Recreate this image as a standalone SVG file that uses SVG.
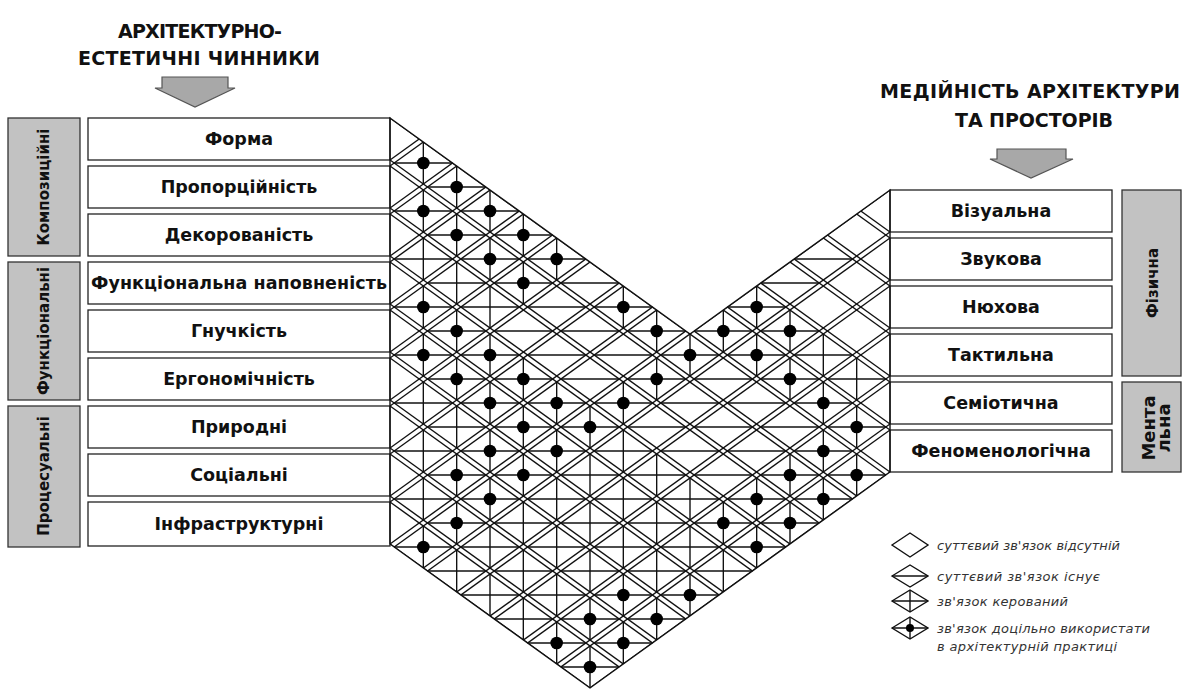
<svg xmlns="http://www.w3.org/2000/svg" xmlns:xlink="http://www.w3.org/1999/xlink" width="1187" height="690" viewBox="0 0 1187 690">
<style>
.ln{stroke:#111;stroke-width:1.4;fill:none}
.box{fill:#fff;stroke:#222;stroke-width:1.3}
.gbox{fill:#c2c2c2;stroke:#333;stroke-width:1.3}
.lbl{font-family:"DejaVu Sans",sans-serif;font-weight:bold;font-size:17.5px;fill:#111;text-anchor:middle}
.glbl{font-family:"DejaVu Sans",sans-serif;font-weight:bold;font-size:15px;fill:#111;text-anchor:middle}
.ttl{font-family:"DejaVu Sans",sans-serif;font-weight:bold;font-size:19px;fill:#111;text-anchor:middle}
.leg{font-family:"DejaVu Sans",sans-serif;font-style:italic;font-size:13px;fill:#333}
.arr{fill:#a8a8a8;stroke:#555;stroke-width:1.2}
.dot{fill:#000}
</style>
<defs>
<line id="ul" class="ln" x1="390" y1="0" x2="890" y2="360"/>
<line id="wl" class="ln" x1="390" y1="0" x2="890" y2="-360"/>
<path id="h" class="ln" d="M-29.17 0H29.17"/>
<path id="v" class="ln" d="M0 -21V21"/>
<g id="t1"><use href="#h"/></g>
<g id="t2"><use href="#h"/><use href="#v"/></g>
<g id="t3"><use href="#h"/><use href="#v"/><circle class="dot" r="6.3"/></g>
<clipPath id="cl"><polygon points="390,118 690,334 890,190 890,472 590,688 390,544"/></clipPath>
</defs>
<rect width="1187" height="690" fill="#fff"/>

<g id="title-left">
<text class="ttl" x="200" y="38" textLength="164">АРХІТЕКТУРНО-</text>
<text class="ttl" x="199" y="65" textLength="242">ЕСТЕТИЧНІ ЧИННИКИ</text>
</g>
<g id="title-right">
<text class="ttl" x="1030" y="98" textLength="300">МЕДІЙНІСТЬ АРХІТЕКТУРИ</text>
<text class="ttl" x="1034" y="127" textLength="158">ТА ПРОСТОРІВ</text>
</g>

<g id="connectors">
<polygon class="arr" points="162,77 228,77 228,88 235,88 195,107 155,88 162,88"/>
<polygon class="arr" points="997,149 1066,149 1066,159 1073,159 1031,178 990,159 997,159"/>
</g>

<g id="group-kompozytsiini"><rect class="gbox" x="8" y="118" width="72" height="138"/><text class="glbl" transform="translate(44,187) rotate(-90)" y="5">Композиційні</text></g>
<g id="group-funktsionalni"><rect class="gbox" x="8" y="262" width="72" height="138"/><text class="glbl" transform="translate(44,331) rotate(-90)" y="5">Функціональні</text></g>
<g id="group-protsesualni"><rect class="gbox" x="8" y="406" width="72" height="141"/><text class="glbl" transform="translate(44,476) rotate(-90)" y="5">Процесуальні</text></g>

<g id="f-forma"><rect class="box" x="88" y="118" width="302" height="42"/><text class="lbl" x="239" y="145">Форма</text></g>
<g id="f-proportsiinist"><rect class="box" x="88" y="166" width="302" height="42"/><text class="lbl" x="239" y="193">Пропорційність</text></g>
<g id="f-dekorovanist"><rect class="box" x="88" y="214" width="302" height="42"/><text class="lbl" x="239" y="241">Декорованість</text></g>
<g id="f-funktsionalna"><rect class="box" x="88" y="262" width="302" height="42"/><text class="lbl" x="239" y="289" textLength="296">Функціональна наповненість</text></g>
<g id="f-hnuchkist"><rect class="box" x="88" y="310" width="302" height="42"/><text class="lbl" x="239" y="337">Гнучкість</text></g>
<g id="f-erhonomichnist"><rect class="box" x="88" y="358" width="302" height="42"/><text class="lbl" x="239" y="385">Ергономічність</text></g>
<g id="f-pryrodni"><rect class="box" x="88" y="406" width="302" height="42"/><text class="lbl" x="239" y="433">Природні</text></g>
<g id="f-sotsialni"><rect class="box" x="88" y="454" width="302" height="42"/><text class="lbl" x="239" y="481">Соціальні</text></g>
<g id="f-infrastrukturni"><rect class="box" x="88" y="502" width="302" height="44"/><text class="lbl" x="239" y="530">Інфраструктурні</text></g>

<g id="m-vizualna"><rect class="box" x="890" y="190" width="222" height="42"/><text class="lbl" x="1001" y="217">Візуальна</text></g>
<g id="m-zvukova"><rect class="box" x="890" y="238" width="222" height="42"/><text class="lbl" x="1001" y="265">Звукова</text></g>
<g id="m-niukhova"><rect class="box" x="890" y="286" width="222" height="42"/><text class="lbl" x="1001" y="313">Нюхова</text></g>
<g id="m-taktylna"><rect class="box" x="890" y="334" width="222" height="42"/><text class="lbl" x="1001" y="361">Тактильна</text></g>
<g id="m-semiotychna"><rect class="box" x="890" y="382" width="222" height="42"/><text class="lbl" x="1001" y="409">Семіотична</text></g>
<g id="m-fenomenolohichna"><rect class="box" x="890" y="430" width="222" height="42"/><text class="lbl" x="1001" y="457">Феноменологічна</text></g>

<g id="group-fizychna"><rect class="gbox" x="1122" y="190" width="59" height="186"/><text class="glbl" transform="translate(1152,283) rotate(-90)" y="6">Фізична</text></g>
<g id="group-mentalna"><rect class="gbox" x="1122" y="382" width="59" height="90"/><text class="glbl" style="font-size:18px" transform="translate(1150,428) rotate(-90)" y="5">Мента</text><text class="glbl" style="font-size:18px" transform="translate(1150,428) rotate(-90)" y="20">льна</text></g>

<g id="matrix">
<g clip-path="url(#cl)">
<use href="#ul" y="-170"/><use href="#ul" y="-128"/><use href="#ul" y="-122"/><use href="#ul" y="-80"/><use href="#ul" y="-74"/><use href="#ul" y="-32"/><use href="#ul" y="-26"/><use href="#ul" y="16"/><use href="#ul" y="22"/><use href="#ul" y="64"/><use href="#ul" y="70"/><use href="#ul" y="112"/><use href="#ul" y="118"/><use href="#ul" y="160"/><use href="#ul" y="166"/><use href="#ul" y="208"/><use href="#ul" y="214"/><use href="#ul" y="256"/><use href="#ul" y="262"/><use href="#ul" y="304"/><use href="#ul" y="310"/><use href="#ul" y="352"/><use href="#ul" y="358"/><use href="#ul" y="400"/><use href="#ul" y="406"/><use href="#ul" y="448"/><use href="#ul" y="454"/><use href="#ul" y="496"/><use href="#ul" y="502"/><use href="#ul" y="544"/>
<use href="#wl" y="118"/><use href="#wl" y="160"/><use href="#wl" y="166"/><use href="#wl" y="208"/><use href="#wl" y="214"/><use href="#wl" y="256"/><use href="#wl" y="262"/><use href="#wl" y="304"/><use href="#wl" y="310"/><use href="#wl" y="352"/><use href="#wl" y="358"/><use href="#wl" y="400"/><use href="#wl" y="406"/><use href="#wl" y="448"/><use href="#wl" y="454"/><use href="#wl" y="496"/><use href="#wl" y="502"/><use href="#wl" y="544"/><use href="#wl" y="550"/><use href="#wl" y="592"/><use href="#wl" y="598"/><use href="#wl" y="640"/><use href="#wl" y="646"/><use href="#wl" y="688"/><use href="#wl" y="694"/><use href="#wl" y="736"/><use href="#wl" y="742"/><use href="#wl" y="784"/><use href="#wl" y="790"/><use href="#wl" y="832"/>
</g>
<polygon class="ln" points="390,118 690,334 890,190 890,472 590,688 390,544"/>
<use href="#t3" x="423.33" y="163"/><use href="#t3" x="423.33" y="211"/><use href="#t2" x="423.33" y="259"/><use href="#t3" x="423.33" y="307"/><use href="#t3" x="423.33" y="355"/><use href="#t2" x="423.33" y="403"/><use href="#t2" x="423.33" y="451"/><use href="#t2" x="423.33" y="499"/>
<use href="#t3" x="456.67" y="187"/><use href="#t3" x="456.67" y="235"/><use href="#t2" x="456.67" y="283"/><use href="#t3" x="456.67" y="331"/><use href="#t3" x="456.67" y="379"/><use href="#t2" x="456.67" y="427"/><use href="#t3" x="456.67" y="475"/>
<use href="#t3" x="490" y="211"/><use href="#t3" x="490" y="259"/><use href="#t2" x="490" y="307"/><use href="#t3" x="490" y="355"/><use href="#t3" x="490" y="403"/><use href="#t3" x="490" y="451"/>
<use href="#t3" x="523.33" y="235"/><use href="#t3" x="523.33" y="283"/><use href="#t1" x="523.33" y="331"/><use href="#t3" x="523.33" y="379"/><use href="#t3" x="523.33" y="427"/>
<use href="#t3" x="556.67" y="259"/><use href="#t1" x="556.67" y="307"/><use href="#t1" x="556.67" y="355"/><use href="#t3" x="556.67" y="403"/>
<use href="#t1" x="590" y="283"/><use href="#t1" x="590" y="331"/><use href="#t1" x="590" y="379"/>
<use href="#t3" x="623.33" y="307"/><use href="#t1" x="623.33" y="355"/>
<use href="#t3" x="656.67" y="331"/>
<use href="#t3" x="690" y="355"/><use href="#t3" x="656.67" y="379"/><use href="#t3" x="623.33" y="403"/><use href="#t3" x="590" y="427"/><use href="#t3" x="556.67" y="451"/><use href="#t3" x="523.33" y="475"/><use href="#t3" x="490" y="499"/><use href="#t3" x="456.67" y="523"/><use href="#t3" x="423.33" y="547"/>
<use href="#t1" x="723.33" y="379"/><use href="#t1" x="690" y="403"/><use href="#t1" x="656.67" y="427"/><use href="#t2" x="623.33" y="451"/><use href="#t2" x="590" y="475"/><use href="#t2" x="556.67" y="499"/><use href="#t2" x="523.33" y="523"/><use href="#t2" x="490" y="547"/><use href="#t2" x="456.67" y="571"/>
<use href="#t1" x="756.67" y="403"/><use href="#t1" x="723.33" y="427"/><use href="#t1" x="690" y="451"/><use href="#t2" x="656.67" y="475"/><use href="#t2" x="623.33" y="499"/><use href="#t2" x="590" y="523"/><use href="#t2" x="556.67" y="547"/><use href="#t2" x="523.33" y="571"/><use href="#t2" x="490" y="595"/>
<use href="#t1" x="790" y="427"/><use href="#t1" x="756.67" y="451"/><use href="#t1" x="723.33" y="475"/><use href="#t2" x="690" y="499"/><use href="#t2" x="656.67" y="523"/><use href="#t2" x="623.33" y="547"/><use href="#t2" x="590" y="571"/><use href="#t2" x="556.67" y="595"/><use href="#t2" x="523.33" y="619"/>
<use href="#t3" x="823.33" y="451"/><use href="#t3" x="790" y="475"/><use href="#t3" x="756.67" y="499"/><use href="#t3" x="723.33" y="523"/><use href="#t2" x="690" y="547"/><use href="#t2" x="656.67" y="571"/><use href="#t3" x="623.33" y="595"/><use href="#t3" x="590" y="619"/><use href="#t3" x="556.67" y="643"/>
<use href="#t3" x="856.67" y="475"/><use href="#t3" x="823.33" y="499"/><use href="#t3" x="790" y="523"/><use href="#t3" x="756.67" y="547"/><use href="#t2" x="723.33" y="571"/><use href="#t3" x="690" y="595"/><use href="#t3" x="656.67" y="619"/><use href="#t3" x="623.33" y="643"/><use href="#t3" x="590" y="667"/>
<use href="#t1" x="823.33" y="259"/><use href="#t1" x="790" y="283"/>
<use href="#t3" x="756.67" y="307"/><use href="#t3" x="723.33" y="331"/><use href="#t3" x="790" y="331"/>
<use href="#t3" x="756.67" y="355"/><use href="#t2" x="823.33" y="355"/>
<use href="#t3" x="790" y="379"/><use href="#t2" x="856.67" y="379"/>
<use href="#t3" x="823.33" y="403"/><use href="#t3" x="856.67" y="427"/>
</g>

<g id="legend">
<g id="leg-none"><polygon class="ln" points="892,545 910,533 928,545 910,557"/><text class="leg" x="937" y="550" textLength="183">суттєвий зв'язок відсутній</text></g>
<g id="leg-exists"><polygon class="ln" points="892,576 910,565 928,576 910,587"/><path class="ln" d="M892 576H928"/><text class="leg" x="937" y="581" textLength="163">суттєвий зв'язок існує</text></g>
<g id="leg-controlled"><polygon class="ln" points="892,601 910,590 928,601 910,612"/><path class="ln" d="M892 601H928M910 590V612"/><text class="leg" x="937" y="606" textLength="131">зв'язок керований</text></g>
<g id="leg-use"><polygon class="ln" points="892,628 910,617 928,628 910,639"/><path class="ln" d="M892 628H928M910 617V639"/><circle class="dot" cx="910" cy="628" r="4"/><text class="leg" x="937" y="633" textLength="213">зв'язок доцільно використати</text><text class="leg" x="937" y="651" textLength="180">в архітектурній практиці</text></g>
</g>
</svg>
